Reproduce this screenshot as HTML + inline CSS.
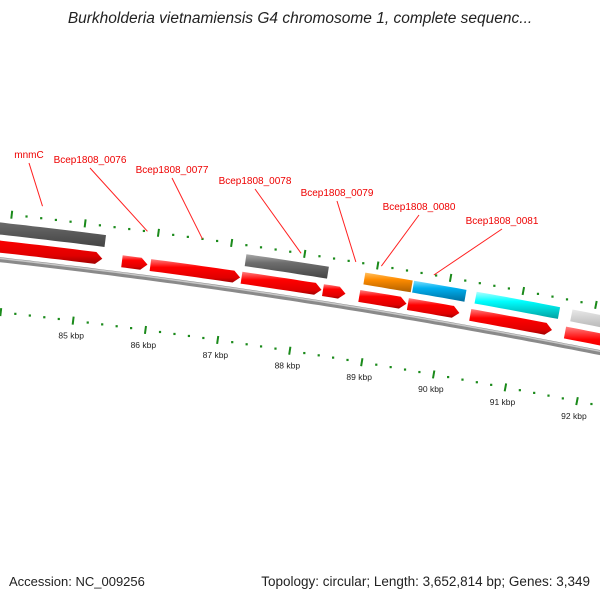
<!DOCTYPE html>
<html><head><meta charset="utf-8"><style>
html,body{margin:0;padding:0;background:#fff}
svg{display:block;font-family:"Liberation Sans",sans-serif}
</style></head><body>
<svg id="map" width="600" height="600" viewBox="0 0 600 600">
<defs>
<linearGradient id="gRed" x1="0" y1="0" x2="0" y2="1"><stop offset="0" stop-color="#ff8080"/><stop offset="0.35" stop-color="#ff0000"/><stop offset="0.8" stop-color="#e00000"/><stop offset="1" stop-color="#a00000"/></linearGradient>
<linearGradient id="gGray" x1="0" y1="0" x2="0" y2="1"><stop offset="0" stop-color="#aaa"/><stop offset="0.35" stop-color="#6e6e6e"/><stop offset="1" stop-color="#444"/></linearGradient>
<linearGradient id="gLGray" x1="0" y1="0" x2="0" y2="1"><stop offset="0" stop-color="#e8e8e8"/><stop offset="0.35" stop-color="#c4c4c4"/><stop offset="1" stop-color="#999"/></linearGradient>
<linearGradient id="gOrange" x1="0" y1="0" x2="0" y2="1"><stop offset="0" stop-color="#ffc060"/><stop offset="0.35" stop-color="#ff8c00"/><stop offset="1" stop-color="#b06000"/></linearGradient>
<linearGradient id="gBlue" x1="0" y1="0" x2="0" y2="1"><stop offset="0" stop-color="#80e0ff"/><stop offset="0.35" stop-color="#00b0f0"/><stop offset="1" stop-color="#0070a0"/></linearGradient>
<linearGradient id="gCyan" x1="0" y1="0" x2="0" y2="1"><stop offset="0" stop-color="#b0ffff"/><stop offset="0.35" stop-color="#00ffff"/><stop offset="1" stop-color="#00a0a0"/></linearGradient>
</defs>
<text x="300" y="23" text-anchor="middle" font-size="15.5" font-style="italic" fill="#222">Burkholderia vietnamiensis G4 chromosome 1, complete sequenc...</text>
<text x="9" y="586" font-size="13" fill="#222">Accession: NC_009256</text>
<text x="590" y="586" font-size="13.5" fill="#222" text-anchor="end">Topology: circular; Length: 3,652,814 bp; Genes: 3,349</text>
<g id="layer"></g>
</svg>
<script>
const tickKbp = [83,84,85,86,87,88,89,90,91,92,93];
const tickLabels = ["83 kbp","84 kbp","85 kbp","86 kbp","87 kbp","88 kbp","89 kbp","90 kbp","91 kbp","92 kbp","93 kbp"];
const redStarts = [81.5,85.56,85.95,87.2,88.32,88.82,89.49,90.35,91.66];
const redEnds   = [85.29,85.91,87.18,88.3,88.63,89.47,90.2,91.48,93.5];
const topStarts = [81.5,87.22,88.85,89.52,90.38,91.7];
const topEnds   = [85.3,88.35,89.5,90.24,91.53,93.5];
const topColors = ["gGray","gGray","gOrange","gBlue","gCyan","gLGray"];
const geneLabels = ["mnmC","Bcep1808_0076","Bcep1808_0077","Bcep1808_0078","Bcep1808_0079","Bcep1808_0080","Bcep1808_0081"];
const labelKbp = [84.4,85.85,86.6,87.95,88.7,89.05,89.77];

const NS="http://www.w3.org/2000/svg";
const layer=document.getElementById('layer');
const R=7200, CX=-801, CY=7415, TH0=0.1226, DTH=0.0102;
function P(k,off){const t=TH0+(k-85)*DTH, r=R+off;return [CX+r*Math.sin(t), CY-r*Math.cos(t)];}
function mk(tag,attrs){const e=document.createElementNS(NS,tag);for(const a in attrs)e.setAttribute(a,attrs[a]);layer.appendChild(e);return e;}
function arcPath(k0,k1,off){let d='';for(let k=k0;k<=k1+1e-9;k+=0.1){const p=P(k,off);d+=(d?'L':'M')+p[0].toFixed(1)+','+p[1].toFixed(1);}return d;}

let bb=mk('path',{d:arcPath(80,95,0),stroke:'#8a8a8a','stroke-width':5,fill:'none'});


let bb2=mk('path',{d:arcPath(80,95,1.3),stroke:'#c8c8c8','stroke-width':1.5,fill:'none'});



function ticks(off,label){
  for(let i=0;i<tickKbp.length;i++){
    const k=tickKbp[i];
    const a=P(k,off-4),b=P(k,off+4);
    let t=mk('line',{x1:a[0],y1:a[1],x2:b[0],y2:b[1],stroke:'#1a8a1a','stroke-width':2});
    
    
    for(let j=1;j<5;j++){
      const c=P(k+j*0.2,off);
      let d=mk('rect',{x:c[0]-1,y:c[1]-1,width:2.2,height:2.2,fill:'#1a8a1a'});
      
      
    }
    const q=P(k,off-16);
    if(label && q[0]>15 && q[0]<600){
      let tx=mk('text',{x:q[0],y:q[1]+2,'font-size':8.5,'text-anchor':'middle',fill:'#222'});
      tx.textContent=tickLabels[i];
      
      
    }
  }
}
ticks(46,false);
ticks(-52,true);

function gene(k0,k1,off,fill,arrow){
  const h=6, head=Math.min(0.09,(k1-k0)*0.4);
  const kb=arrow?k1-head:k1;
  let pts=[];
  for(let k=k0;k<kb;k+=0.1)pts.push(P(k,off+h));
  pts.push(P(kb,off+h));
  if(arrow)pts.push(P(k1,off));
  pts.push(P(kb,off-h));
  for(let k=kb;k>k0;k-=0.1)pts.push(P(Math.max(k,k0),off-h));
  pts.push(P(k0,off-h));
  return mk('polygon',{points:pts.map(p=>p[0].toFixed(1)+','+p[1].toFixed(1)).join(' '),fill:'url(#'+fill+')'});
}
for(let i=0;i<redStarts.length;i++){
  let g=gene(redStarts[i],redEnds[i],13,'gRed',true);
  
  
}
for(let i=0;i<topStarts.length;i++){
  let g=gene(topStarts[i],topEnds[i],31,topColors[i],false);
  
  
}

const lblPos=[[29,158],[90,163],[172,173],[255,184],[337,196],[419,210],[502,224]];
for(let i=0;i<geneLabels.length;i++){
  const lp=lblPos[i], g=P(labelKbp[i],i===0?58:46);
  let ln=mk('line',{x1:lp[0],y1:lp[1]+5,x2:g[0],y2:g[1],stroke:'#ff2020','stroke-width':1});
  
  
  let t=mk('text',{x:lp[0],y:lp[1],'font-size':10,'text-anchor':'middle',fill:'#ee0000'});
  t.textContent=geneLabels[i];
  
  
}
</script>
</body></html>
